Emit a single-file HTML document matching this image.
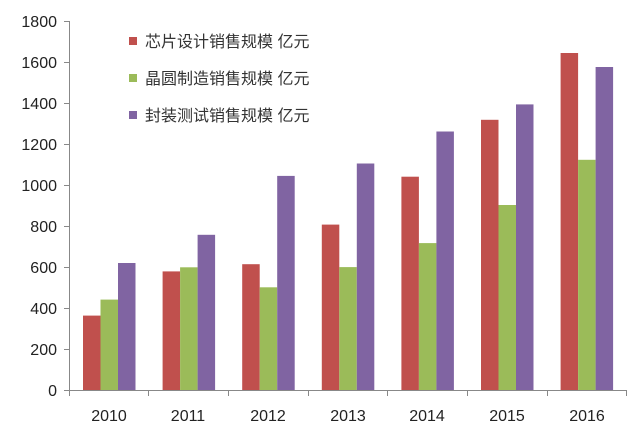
<!DOCTYPE html>
<html><head><meta charset="utf-8"><style>
html,body{margin:0;padding:0;background:#fff;}
svg{display:block;font-family:"Liberation Sans","Noto Sans CJK SC",sans-serif;}
</style></head><body>
<svg width="640" height="436" viewBox="0 0 640 436" xmlns="http://www.w3.org/2000/svg">
<rect width="640" height="436" fill="#fff"/>
<g>
<rect x="83" y="315.6" width="17.5" height="74.4" fill="#c0504d"/>
<rect x="100.5" y="299.6" width="17.5" height="90.4" fill="#9bbb59"/>
<rect x="118" y="263" width="17.5" height="127" fill="#8064a2"/>
<rect x="162.6" y="271.4" width="17.5" height="118.6" fill="#c0504d"/>
<rect x="180.1" y="267.3" width="17.5" height="122.7" fill="#9bbb59"/>
<rect x="197.6" y="234.8" width="17.5" height="155.2" fill="#8064a2"/>
<rect x="242.2" y="264.2" width="17.5" height="125.8" fill="#c0504d"/>
<rect x="259.7" y="287.3" width="17.5" height="102.7" fill="#9bbb59"/>
<rect x="277.2" y="175.9" width="17.5" height="214.1" fill="#8064a2"/>
<rect x="321.8" y="224.6" width="17.5" height="165.4" fill="#c0504d"/>
<rect x="339.3" y="267.1" width="17.5" height="122.9" fill="#9bbb59"/>
<rect x="356.8" y="163.5" width="17.5" height="226.5" fill="#8064a2"/>
<rect x="401.4" y="176.7" width="17.5" height="213.3" fill="#c0504d"/>
<rect x="418.9" y="243.1" width="17.5" height="146.9" fill="#9bbb59"/>
<rect x="436.4" y="131.5" width="17.5" height="258.5" fill="#8064a2"/>
<rect x="481" y="119.8" width="17.5" height="270.2" fill="#c0504d"/>
<rect x="498.5" y="205" width="17.5" height="185" fill="#9bbb59"/>
<rect x="516" y="104.4" width="17.5" height="285.6" fill="#8064a2"/>
<rect x="560.6" y="53" width="17.5" height="337" fill="#c0504d"/>
<rect x="578.1" y="159.8" width="17.5" height="230.2" fill="#9bbb59"/>
<rect x="595.6" y="67" width="17.5" height="323" fill="#8064a2"/>
</g>
<g stroke="#888" stroke-width="1" fill="none">
<line x1="69.5" y1="21" x2="69.5" y2="390"/>
<line x1="69" y1="390.5" x2="627" y2="390.5"/>
<line x1="64" y1="21.5" x2="69" y2="21.5"/>
<line x1="64" y1="62.5" x2="69" y2="62.5"/>
<line x1="64" y1="103.5" x2="69" y2="103.5"/>
<line x1="64" y1="144.5" x2="69" y2="144.5"/>
<line x1="64" y1="185.5" x2="69" y2="185.5"/>
<line x1="64" y1="226.5" x2="69" y2="226.5"/>
<line x1="64" y1="267.5" x2="69" y2="267.5"/>
<line x1="64" y1="308.5" x2="69" y2="308.5"/>
<line x1="64" y1="349.5" x2="69" y2="349.5"/>
<line x1="64" y1="390.5" x2="69" y2="390.5"/>
<line x1="69.5" y1="390" x2="69.5" y2="396"/>
<line x1="148.5" y1="390" x2="148.5" y2="396"/>
<line x1="228.5" y1="390" x2="228.5" y2="396"/>
<line x1="308.5" y1="390" x2="308.5" y2="396"/>
<line x1="387.5" y1="390" x2="387.5" y2="396"/>
<line x1="467.5" y1="390" x2="467.5" y2="396"/>
<line x1="547.5" y1="390" x2="547.5" y2="396"/>
<line x1="626.5" y1="390" x2="626.5" y2="396"/>
</g>
<g font-size="16" fill="#222" text-anchor="end">
<text x="57" y="27">1800</text><text x="57" y="68">1600</text><text x="57" y="109">1400</text>
<text x="57" y="150">1200</text><text x="57" y="191">1000</text><text x="57" y="232">800</text>
<text x="57" y="273">600</text><text x="57" y="314">400</text><text x="57" y="355">200</text>
<text x="57" y="396">0</text>
</g>
<g font-size="16" fill="#222" text-anchor="middle">
<text x="109" y="421">2010</text><text x="188" y="421">2011</text><text x="268" y="421">2012</text>
<text x="348" y="421">2013</text><text x="427" y="421">2014</text><text x="507" y="421">2015</text>
<text x="587" y="421">2016</text>
</g>
<g font-size="16" fill="#333">
<rect x="129" y="37" width="8" height="8" fill="#c0504d"/><text x="145" y="47">芯片设计销售规模 亿元</text>
<rect x="129" y="74" width="8" height="8" fill="#9bbb59"/><text x="145" y="84">晶圆制造销售规模 亿元</text>
<rect x="129" y="111" width="8" height="8" fill="#8064a2"/><text x="145" y="121">封装测试销售规模 亿元</text>
</g>
</svg>
</body></html>
